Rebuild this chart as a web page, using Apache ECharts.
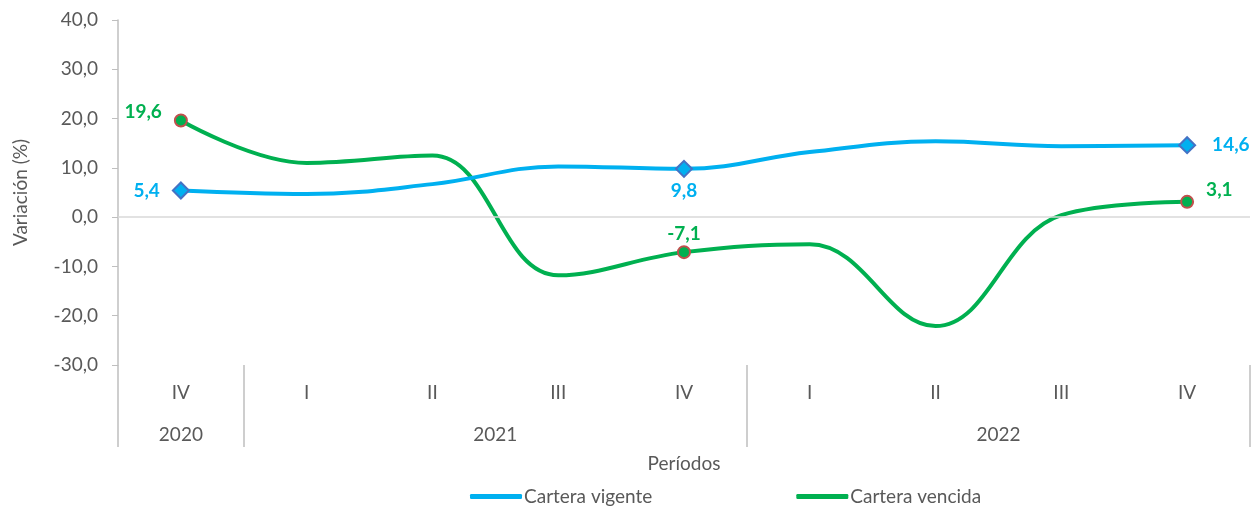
<!DOCTYPE html>
<html>
<head>
<meta charset="utf-8">
<script src="https://cdn.jsdelivr.net/npm/echarts@6/dist/echarts.min.js"></script>
<style>
  html, body { margin: 0; padding: 0; background: #fff; }
  #main { width: 1257px; height: 506px; }
</style>
</head>
<body>
<div id="main"></div>
<script>
// quarters along the x axis, grouped by year
const quarters = ['IV', 'I', 'II', 'III', 'IV', 'I', 'II', 'III', 'IV'];
const years = ['2020', '2021', '2022'];
const yearStart = [0, 1, 5]; // first quarter index of each year
const yearSpan = [1, 4, 4];

// variación (%)
const vigente = [5.4, 4.7, 6.7, 10.3, 9.8, 13.2, 15.4, 14.4, 14.6];
const vencida = [19.6, 11.0, 12.5, -11.8, -7.1, -5.5, -22.1, 0.4, 3.1];
const labelled = [0, 4, 8];

const font = 'Lato';
const grey = '#595959';
const blue = '#00B0F0';
const green = '#00B050';

// year label positions (centre of each group) on a 0..9 value scale
const yearPos = {};
years.forEach((y, i) => { yearPos[yearStart[i] + yearSpan[i] / 2] = y; });
const boundaries = yearStart.concat([quarters.length]);

const fmt = v => v.toFixed(1).replace('.', ',');

function buildData(values, marker, labelPos) {
  return values.map((v, i) => {
    const k = labelled.indexOf(i);
    if (k < 0) return { value: v, symbol: 'none' };
    return {
      value: v,
      symbol: marker.symbol,
      symbolSize: marker.size,
      itemStyle: marker.style,
      label: Object.assign({ show: true }, labelPos[k])
    };
  });
}

const chart = echarts.init(document.getElementById('main'));
chart.setOption({
  animation: false,
  textStyle: { fontFamily: font },
  grid: { left: 118, right: 7, top: 20, bottom: 141 },
  legend: {
    left: 465,
    top: 482,
    icon: 'roundRect',
    itemWidth: 52,
    itemHeight: 5,
    itemGap: 144,
    textStyle: { color: grey, fontSize: 19, fontFamily: font, padding: [0, 0, 0, -3] },
    data: ['Cartera vigente', 'Cartera vencida']
  },
  xAxis: [
    {
      type: 'category',
      data: quarters,
      boundaryGap: true,
      position: 'bottom',
      axisLine: { show: false, onZero: false },
      axisTick: {
        show: true,
        length: 82,
        interval: (idx) => boundaries.indexOf(idx) >= 0,
        lineStyle: { color: '#BFBFBF', width: 1.5 }
      },
      axisLabel: { color: grey, fontSize: 19, margin: 18, fontFamily: font },
      splitLine: { show: false }
    },
    {
      type: 'value',
      min: 0,
      max: quarters.length,
      interval: 0.5,
      position: 'bottom',
      axisLine: { show: false, onZero: false },
      axisTick: { show: false },
      splitLine: { show: false },
      axisLabel: {
        color: grey, fontSize: 19, margin: 60, fontFamily: font,
        showMinLabel: true, showMaxLabel: true,
        formatter: v => yearPos[v] || ''
      },
      name: 'Períodos',
      nameLocation: 'middle',
      nameGap: 89,
      nameTextStyle: { color: grey, fontSize: 19, fontFamily: font, verticalAlign: 'top' }
    }
  ],
  yAxis: {
    type: 'value',
    min: -30,
    max: 40,
    interval: 10,
    axisLine: { show: true, lineStyle: { color: '#BFBFBF', width: 1.5 } },
    axisTick: { show: true, inside: false, length: 6, lineStyle: { color: '#BFBFBF' } },
    splitLine: { show: false },
    axisLabel: { color: grey, fontSize: 19, margin: 20, formatter: fmt, fontFamily: font },
    name: 'Variación (%)',
    nameLocation: 'middle',
    nameRotate: 90,
    nameGap: 88,
    nameTextStyle: { color: grey, fontSize: 19, fontFamily: font }
  },
  series: [
    {
      name: 'Cartera vigente',
      type: 'line',
      xAxisIndex: 0,
      smooth: 0.4,
      lineStyle: { color: blue, width: 4 },
      itemStyle: { color: blue },
      z: 3,
      label: { color: blue, fontWeight: 'bold', fontSize: 19, fontFamily: font, formatter: p => fmt(p.value) },
      data: buildData(vigente,
        { symbol: 'diamond', size: 16, style: { color: blue, borderColor: '#4472C4', borderWidth: 2 } },
        [{ position: 'left', distance: 12 }, { position: 'bottom', distance: 4 }, { position: 'right', distance: 16 }]),
      markLine: {
        silent: true,
        symbol: 'none',
        label: { show: false },
        lineStyle: { color: '#D9D9D9', type: 'solid', width: 1.5 },
        data: [{ yAxis: 0 }]
      }
    },
    {
      name: 'Cartera vencida',
      type: 'line',
      xAxisIndex: 0,
      smooth: 0.4,
      lineStyle: { color: green, width: 4 },
      itemStyle: { color: green },
      z: 2,
      label: { color: green, fontWeight: 'bold', fontSize: 19, fontFamily: font, formatter: p => fmt(p.value) },
      data: buildData(vencida,
        { symbol: 'circle', size: 12, style: { color: green, borderColor: '#C0504D', borderWidth: 2 } },
        [{ position: 'left', distance: 12, offset: [0, -9] }, { position: 'top', distance: 2 }, { position: 'right', distance: 12, offset: [0, -12] }])
    }
  ]
});
</script>
</body>
</html>
